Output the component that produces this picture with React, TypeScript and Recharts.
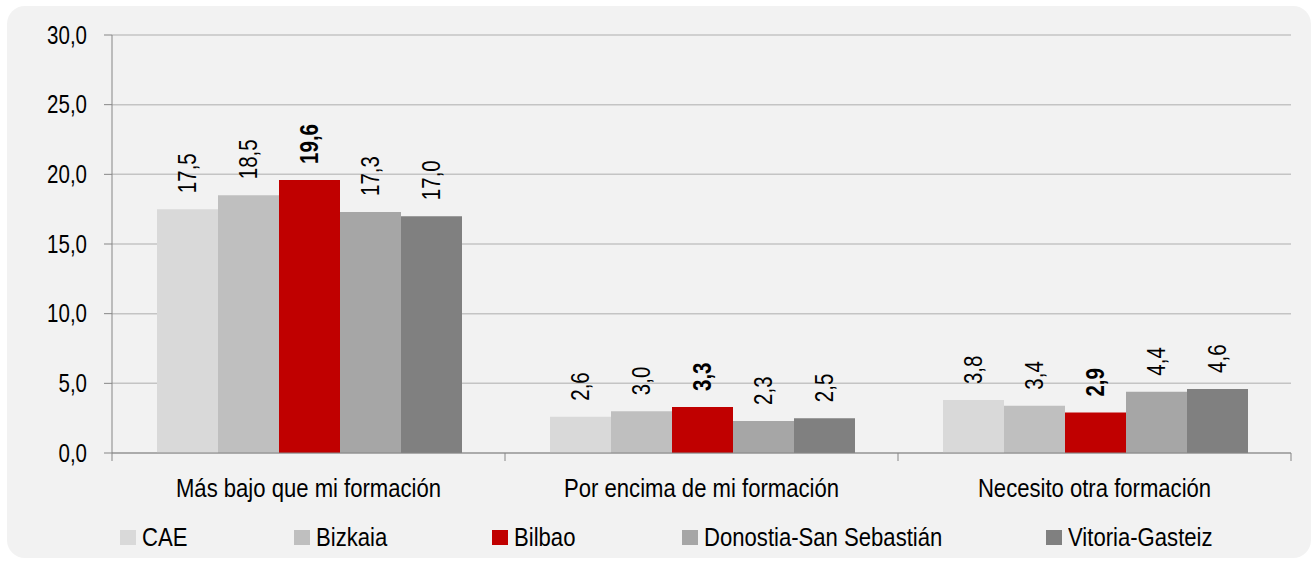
import React from 'react';
import { BarChart, Bar, XAxis, YAxis, CartesianGrid, LabelList } from 'recharts';

const categories = ['Más bajo que mi formación', 'Por encima de mi formación', 'Necesito otra formación'];
const cae = [17.5, 2.6, 3.8];
const bizkaia = [18.5, 3.0, 3.4];
const bilbao = [19.6, 3.3, 2.9];
const donostia = [17.3, 2.3, 4.4];
const vitoria = [17.0, 2.5, 4.6];
const yTicks = [0, 5, 10, 15, 20, 25, 30];

const series = [
  { key: 'cae', name: 'CAE', color: '#d9d9d9', bold: false },
  { key: 'bizkaia', name: 'Bizkaia', color: '#bfbfbf', bold: false },
  { key: 'bilbao', name: 'Bilbao', color: '#c00000', bold: true },
  { key: 'donostia', name: 'Donostia-San Sebastián', color: '#a6a6a6', bold: false },
  { key: 'vitoria', name: 'Vitoria-Gasteiz', color: '#808080', bold: false },
];

const data = categories.map((c, i) => ({
  name: c,
  cae: cae[i],
  bizkaia: bizkaia[i],
  bilbao: bilbao[i],
  donostia: donostia[i],
  vitoria: vitoria[i],
}));

// no Arial Narrow here, so squeeze Liberation Sans horizontally
const FONT = '"Liberation Sans", Arial, sans-serif';
const SQ = 0.82;
const FS = 25;
const SQ2 = 0.85;
const FS2 = 26;
const W = 1304;
const H = 552;
const LEFT = 105;
const RIGHT = 20;
const half = (W - LEFT - RIGHT) / categories.length / 2;

const fmt = (v: number) => v.toFixed(1).replace('.', ',');

// legend slots, left offsets as in the original
const legendLeft = [113, 287, 485, 675, 1039];

const CatTick = (props: any) => {
  const { x, y, payload, index } = props;
  return (
    <g>
      {index === 0 && <line x1={x - half} y1={y} x2={x - half} y2={y + 8} stroke="#868686" />}
      <line x1={x + half} y1={y} x2={x + half} y2={y + 8} stroke="#868686" />
      <g transform={`translate(${x} ${y + 35}) scale(${SQ2} 1)`}>
        <text x={0} y={0} textAnchor="middle" dominantBaseline="central" fontSize={FS2} fill="#000" fontFamily={FONT}>
          {payload.value}
        </text>
      </g>
    </g>
  );
};

const ValTick = (props: any) => {
  const { x, y, payload } = props;
  return (
    <g transform={`translate(${x} ${y}) scale(${SQ} 1)`}>
      <text x={0} y={0} textAnchor="end" dominantBaseline="central" fontSize={FS} fill="#000" fontFamily={FONT}>
        {fmt(payload.value)}
      </text>
    </g>
  );
};

const makeLabel = (bold: boolean) => (props: any) => {
  const { x, y, width, value } = props;
  const cx = x + width / 2;
  const cy = y - 16;
  return (
    <g transform={`translate(${cx} ${cy}) rotate(-90) scale(${SQ} 1)`}>
      <text
        x={0}
        y={0}
        textAnchor="start"
        dominantBaseline="central"
        fontSize={FS}
        fontWeight={bold ? 'bold' : 'normal'}
        fill="#000"
        fontFamily={FONT}
      >
        {fmt(value)}
      </text>
    </g>
  );
};

export default function App() {
  return (
    <div style={{ position: 'absolute', left: 7, top: 6, width: W, height: H, background: '#f2f2f2', borderRadius: 18, fontFamily: FONT }}>
      <BarChart width={W} height={H} data={data} margin={{ top: 29, right: RIGHT, left: 0, bottom: 45 }} barCategoryGap={45} barGap={0}>
        <CartesianGrid vertical={false} stroke="#c4c4c4" strokeWidth={1.5} />
        <XAxis
          dataKey="name"
          height={60}
          axisLine={{ stroke: '#868686' }}
          tickLine={false}
          tickSize={0}
          tickMargin={0}
          tick={<CatTick />}
          interval={0}
        />
        <YAxis
          width={LEFT}
          domain={[0, 30]}
          ticks={yTicks}
          axisLine={{ stroke: '#868686' }}
          tickLine={{ stroke: '#868686' }}
          tickSize={8}
          tickMargin={17}
          tick={<ValTick />}
        />
        {series.map((s) => (
          <Bar key={s.key} dataKey={s.key} name={s.name} fill={s.color} isAnimationActive={false}>
            <LabelList dataKey={s.key} content={makeLabel(s.bold)} />
          </Bar>
        ))}
      </BarChart>
      {series.map((s, i) => (
        <div key={s.key} style={{ position: 'absolute', left: legendLeft[i], top: 516, display: 'flex', alignItems: 'center', height: 30, whiteSpace: 'nowrap' }}>
          <div style={{ width: 16, height: 15, background: s.color, marginRight: 6 }} />
          <span style={{ display: 'inline-block', fontSize: FS2, color: '#000', fontFamily: FONT, transform: `scaleX(${SQ2})`, transformOrigin: 'left center' }}>{s.name}</span>
        </div>
      ))}
    </div>
  );
}
